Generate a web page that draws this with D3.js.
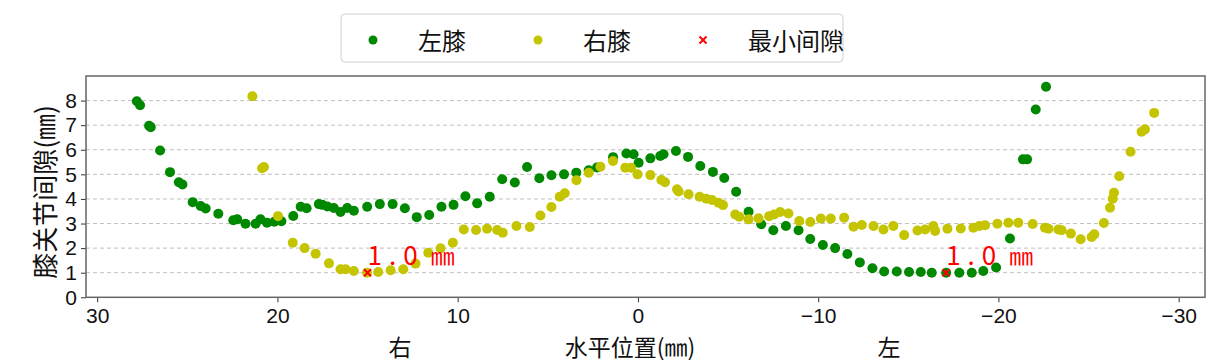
<!DOCTYPE html>
<html><head><meta charset="utf-8">
<script src="https://cdn.jsdelivr.net/npm/d3@7"></script>
<style>body{margin:0;background:#fff}svg{display:block}</style>
</head><body><svg id="c" width="1232" height="362"></svg>
<script>
// 左膝 (left knee)
const leftX = [27.80,27.62,27.12,27.03,26.51,25.96,25.47,25.27,24.70,24.26,23.98,23.28,22.45,22.23,21.77,21.21,20.94,20.58,20.17,19.78,19.12,18.71,18.38,17.70,17.51,17.23,16.87,16.50,16.13,15.76,15.02,14.32,13.61,12.93,12.27,11.58,10.90,10.23,9.57,8.92,8.22,7.53,6.83,6.15,5.47,4.80,4.10,3.42,2.73,2.27,1.38,0.64,0.24,-0.04,-0.69,-1.24,-1.42,-2.11,-2.78,-3.46,-4.16,-4.79,-5.45,-6.14,-6.84,-7.51,-8.21,-8.91,-9.56,-10.26,-10.94,-11.62,-12.31,-13.01,-13.66,-14.36,-15.04,-15.69,-16.30,-17.10,-17.83,-18.52,-19.16,-19.87,-20.64,-21.36,-21.59,-22.07,-22.64];
const leftY = [7.97,7.81,6.98,6.92,5.97,5.09,4.68,4.59,3.87,3.71,3.61,3.40,3.13,3.17,2.99,2.99,3.17,3.03,3.07,3.09,3.31,3.68,3.62,3.79,3.76,3.69,3.63,3.47,3.63,3.52,3.68,3.79,3.79,3.62,3.26,3.35,3.68,3.76,4.11,3.82,4.09,4.80,4.67,5.30,4.84,4.96,5.00,5.07,5.17,5.28,5.70,5.85,5.82,5.47,5.65,5.75,5.82,5.95,5.71,5.34,5.10,4.85,4.29,3.48,2.97,2.73,2.90,2.73,2.37,2.13,2.00,1.76,1.42,1.18,1.05,1.05,1.03,1.03,1.00,1.00,1.00,1.00,1.07,1.21,2.39,5.61,5.61,7.64,8.56];
// 右膝 (right knee)
const rightX = [21.39,20.85,20.75,19.97,19.15,18.49,17.88,17.14,16.50,16.22,15.76,15.03,14.41,13.72,13.02,12.34,11.63,10.95,10.27,9.66,8.98,8.37,7.81,7.50,6.74,6.00,5.41,4.80,4.34,4.06,3.41,2.73,2.08,1.38,0.70,0.38,0.02,-0.69,-1.30,-1.50,-2.17,-2.26,-2.81,-3.42,-3.79,-4.11,-4.47,-4.72,-5.40,-5.62,-6.14,-6.69,-7.28,-7.56,-7.89,-8.35,-8.95,-9.56,-10.15,-10.70,-11.44,-11.96,-12.42,-13.07,-13.62,-14.17,-14.77,-15.51,-15.93,-16.39,-16.49,-17.17,-17.91,-18.61,-18.94,-19.26,-19.94,-20.55,-21.10,-21.90,-22.58,-22.77,-23.32,-23.51,-24.02,-24.56,-25.17,-25.32,-25.85,-26.19,-26.34,-26.41,-26.70,-27.33,-27.94,-28.13,-28.64];
const rightY = [8.18,5.25,5.30,3.30,2.22,2.00,1.77,1.38,1.14,1.14,1.07,1.00,1.03,1.10,1.14,1.37,1.81,1.99,2.22,2.76,2.74,2.79,2.74,2.63,2.90,2.86,3.33,3.67,4.09,4.23,4.76,5.07,5.31,5.54,5.27,5.27,5.00,4.97,4.77,4.68,4.39,4.30,4.19,4.09,4.01,3.96,3.85,3.75,3.37,3.28,3.17,3.21,3.30,3.37,3.47,3.41,3.10,3.06,3.20,3.20,3.24,2.87,2.94,2.90,2.76,2.90,2.53,2.72,2.76,2.90,2.70,2.79,2.80,2.83,2.90,2.93,2.99,3.03,3.03,2.98,2.83,2.79,2.76,2.73,2.59,2.36,2.45,2.56,3.02,3.64,4.01,4.25,4.92,5.92,6.73,6.83,7.50];
// 最小间隙 (minimum gap)
const minX = [15.0, -17.1];
const minY = [1.0, 1.0];
const minLabel = ["1.0", "1.0"];
const xTicks = [30,20,10,0,-10,-20,-30];
const yTicks = [0,1,2,3,4,5,6,7,8];
const legendNames = ["左膝","右膝","最小间隙"];

const svg = d3.select("#c");
const L=86, R=1205, T=76, B=297.3;
const x = d3.scaleLinear().domain([30.62,-31.46]).range([L,R]);
const y = d3.scaleLinear().domain([0,9]).range([B,T]);
const green="#008800", yellow="#c4c400", red="#ff0000";
const cjk = "'Noto Sans CJK SC', sans-serif";
const num = "'Liberation Sans', Arial, sans-serif";

// grid
svg.append("g").selectAll("line").data(yTicks.filter(d=>d>0)).join("line")
  .attr("x1",L).attr("x2",R).attr("y1",d=>y(d)).attr("y2",d=>y(d))
  .attr("stroke","#c0c0c0").attr("stroke-width",1).attr("stroke-dasharray","4,3");

// axes
const gx = svg.append("g").attr("transform",`translate(0,${B})`)
  .call(d3.axisBottom(x).tickValues(xTicks).tickSize(5).tickPadding(3).tickFormat(d3.format("d")));
const gy = svg.append("g").attr("transform",`translate(${L},0)`)
  .call(d3.axisLeft(y).tickValues(yTicks).tickSize(5).tickPadding(4));
[gx,gy].forEach(g=>{
  g.select(".domain").remove();
  g.selectAll("line").attr("stroke","#333");
  g.selectAll("text").attr("font-family",num).attr("font-size",21).attr("fill","#111");
});
gx.selectAll("text").attr("dy","0.85em");
// frame
svg.append("rect").attr("x",L).attr("y",T).attr("width",R-L).attr("height",B-T)
  .attr("fill","none").attr("stroke","#666").attr("stroke-width",1.5);

// points
svg.append("g").selectAll("circle").data(leftX.map((v,i)=>[v,leftY[i]])).join("circle")
  .attr("cx",d=>x(d[0])).attr("cy",d=>y(d[1])).attr("r",5).attr("fill",green);
svg.append("g").selectAll("circle").data(rightX.map((v,i)=>[v,rightY[i]])).join("circle")
  .attr("cx",d=>x(d[0])).attr("cy",d=>y(d[1])).attr("r",5).attr("fill",yellow);

function cross(g,cx,cy,s,w){
  g.append("path").attr("d",`M${cx-s},${cy-s}L${cx+s},${cy+s}M${cx-s},${cy+s}L${cx+s},${cy-s}`)
   .attr("stroke",red).attr("stroke-width",w).attr("fill","none");
}
const mg = svg.append("g");
minX.forEach((v,i)=>{
  cross(mg,x(v),y(minY[i]),3.5,2);
  const t = mg.append("text").attr("x",x(v)).attr("y",y(minY[i])-8)
    .attr("fill",red).attr("font-family",cjk).attr("font-size",26);
  t.append("tspan").attr("letter-spacing","7px").text(minLabel[i]);
  t.append("tspan").attr("dx",6).attr("font-size",24).text("㎜");
});

// labels
svg.append("text").attr("transform","translate(43,192) rotate(-90)")
  .attr("text-anchor","middle").attr("dominant-baseline","central")
  .attr("font-family",cjk).attr("font-size",26).attr("fill","#111").text("膝关节间隙(㎜)");
const xl = [["右",400],["水平位置(㎜)",630],["左",889]];
xl.forEach(d=>svg.append("text").attr("x",d[1]).attr("y",346).attr("text-anchor","middle")
  .attr("dominant-baseline","central").attr("font-family",cjk).attr("font-size",23)
  .attr("fill","#111").text(d[0]));

// legend
const lg = svg.append("g");
lg.append("rect").attr("x",341).attr("y",14).attr("width",502).attr("height",48).attr("rx",4)
  .attr("fill","#fff").attr("stroke","#d0d0d0").attr("stroke-width",1);
const lx=[373,538,703];
lg.append("circle").attr("cx",lx[0]).attr("cy",40).attr("r",4.5).attr("fill",green);
lg.append("circle").attr("cx",lx[1]).attr("cy",40).attr("r",4.5).attr("fill",yellow);
cross(lg,lx[2],40,3.5,2);
legendNames.forEach((n,i)=>lg.append("text").attr("x",lx[i]+45).attr("y",39)
  .attr("dominant-baseline","central").attr("font-family",cjk).attr("font-size",24)
  .attr("fill","#111").text(n));
</script></body></html>
